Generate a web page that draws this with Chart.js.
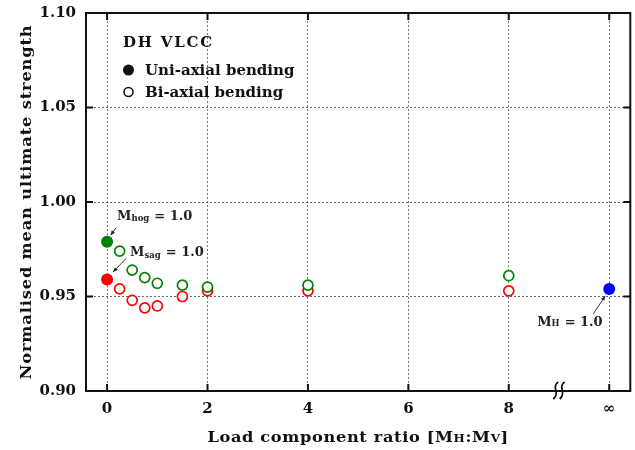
<!DOCTYPE html>
<html><head><meta charset="utf-8">
<script src="https://cdn.jsdelivr.net/npm/chart.js@4/dist/chart.umd.min.js"></script>
<style>html,body{margin:0;padding:0;background:#fff;overflow:hidden;}#wrap{width:635px;height:450px;overflow:hidden;}</style>
</head><body><div id="wrap"><canvas id="c" width="637" height="450"></canvas></div>
<script>
// ---- data ----
const xTicks = [0, 2, 4, 6, 8, 10];
const xTickLabels = ['0', '2', '4', '6', '8', '\u221E'];
const yTicks = [0.90, 0.95, 1.00, 1.05, 1.10];
const uniX = [0];
const uniHog = [0.979];
const uniSag = [0.959];
const horizX = [10];           // plotted at the "infinity" position
const horizOnly = [0.954];
const biX = [0.25, 0.5, 0.75, 1.0, 1.5, 2, 4, 8];
const biHog = [0.974, 0.964, 0.960, 0.957, 0.956, 0.955, 0.956, 0.961];
const biSag = [0.954, 0.948, 0.944, 0.945, 0.950, 0.953, 0.953, 0.953];
const breakAt = 9;
const xTitleParts = [['Load component ratio [M', 0], ['H', 1], [':M', 0], ['V', 1], [']', 0]];
const yTitle = 'Normalised mean ultimate strength';
const legendTitle = 'DH VLCC';
const legendItems = ['Uni-axial bending', 'Bi-axial bending'];

const SERIF = '"DejaVu Serif", "Liberation Serif", serif';
const GREEN = '#008000', RED = '#ff0000', BLUE = '#0000ff';

const pts = (xs, ys) => xs.map((x, i) => ({x: x, y: ys[i]}));

function arrow(ctx, x1, y1, x2, y2) {
  ctx.save();
  ctx.strokeStyle = '#222'; ctx.fillStyle = '#222'; ctx.lineWidth = 0.9;
  ctx.beginPath(); ctx.moveTo(x1, y1); ctx.lineTo(x2, y2); ctx.stroke();
  const a = Math.atan2(y2 - y1, x2 - x1), L = 5, w = 0.4;
  ctx.beginPath();
  ctx.moveTo(x2, y2);
  ctx.lineTo(x2 - L * Math.cos(a - w), y2 - L * Math.sin(a - w));
  ctx.lineTo(x2 - L * Math.cos(a + w), y2 - L * Math.sin(a + w));
  ctx.closePath(); ctx.fill();
  ctx.restore();
}
function mLabel(ctx, x, y, sub, subDy) {
  ctx.save();
  ctx.fillStyle = '#222'; ctx.textAlign = 'left'; ctx.textBaseline = 'alphabetic';
  ctx.font = 'bold 13px ' + SERIF;
  ctx.fillText('M', x, y);
  let cx = x + ctx.measureText('M').width;
  ctx.font = 'bold 8.5px ' + SERIF;
  ctx.fillText(sub, cx, y + subDy);
  cx += ctx.measureText(sub).width + 5;
  ctx.font = 'bold 13px ' + SERIF;
  ctx.fillText('= 1.0', cx, y);
  ctx.restore();
}
function setSpacing(ctx, v) { if ('letterSpacing' in ctx) ctx.letterSpacing = v; }

const decor = {
  id: 'decor',
  afterDraw(chart) {
    const {ctx, chartArea: ca, scales: {x, y}} = chart;
    ctx.save();
    // frame
    ctx.strokeStyle = '#111'; ctx.lineWidth = 2;
    ctx.strokeRect(ca.left, ca.top, ca.right - ca.left, ca.bottom - ca.top);
    // inward ticks
    ctx.beginPath();
    xTicks.forEach(v => {
      const px = x.getPixelForValue(v);
      ctx.moveTo(px, ca.bottom); ctx.lineTo(px, ca.bottom - 7);
      ctx.moveTo(px, ca.top); ctx.lineTo(px, ca.top + 7);
    });
    yTicks.forEach(v => {
      const py = y.getPixelForValue(v);
      ctx.moveTo(ca.left, py); ctx.lineTo(ca.left + 7, py);
      ctx.moveTo(ca.right, py); ctx.lineTo(ca.right - 7, py);
    });
    ctx.stroke();
    // axis break squiggles
    const bx = x.getPixelForValue(breakAt), by = ca.bottom;
    ctx.lineWidth = 1.8;
    [-3.2, 3.2].forEach(off => {
      const cx = bx + off, t = by - 9, b = by + 8;
      ctx.beginPath();
      ctx.moveTo(cx + 2.5, t);
      ctx.bezierCurveTo(cx - 5, t + 5, cx + 5, b - 6, cx - 2.5, b);
      ctx.stroke();
    });
    // annotations
    const hog = chart.getDatasetMeta(0).data[0];
    const sag = chart.getDatasetMeta(1).data[0];
    const hor = chart.getDatasetMeta(2).data[0];
    mLabel(ctx, hog.x + 10, hog.y - 22, 'hog', 1.5);
    arrow(ctx, hog.x + 9, hog.y - 14, hog.x + 3.5, hog.y - 6.5);
    mLabel(ctx, sag.x + 23, sag.y - 23, 'sag', 1.5);
    arrow(ctx, sag.x + 19, sag.y - 21, sag.x + 6, sag.y - 7.5);
    mLabel(ctx, hor.x - 72, hor.y + 37, 'H', 0);
    arrow(ctx, hor.x - 16, hor.y + 25, hor.x - 4, hor.y + 7);
    // legend
    const lx = ca.left, ly = ca.top;
    ctx.fillStyle = '#111'; ctx.textAlign = 'left'; ctx.textBaseline = 'alphabetic';
    ctx.font = 'bold 15px ' + SERIF;
    setSpacing(ctx, '1.8px');
    ctx.fillText(legendTitle, lx + 37, ly + 34);
    setSpacing(ctx, '0px');
    ctx.fillText(legendItems[0], lx + 59, ly + 62);
    ctx.fillText(legendItems[1], lx + 59, ly + 84);
    ctx.beginPath(); ctx.arc(lx + 42.5, ly + 57, 5.5, 0, Math.PI * 2); ctx.fill();
    ctx.lineWidth = 1.6; ctx.strokeStyle = '#111';
    ctx.beginPath(); ctx.arc(lx + 42.5, ly + 79, 4.5, 0, Math.PI * 2); ctx.stroke();
    // axis titles (slightly widened serif to mimic the extended bold face)
    const SX = 1.08;
    ctx.fillStyle = '#111';
    setSpacing(ctx, '0.6px');
    const big = 'bold 15px ' + SERIF, small = 'bold 11px ' + SERIF;
    let total = 0;
    xTitleParts.forEach(([t, s]) => { ctx.font = s ? small : big; total += ctx.measureText(t).width; });
    ctx.save();
    ctx.translate((ca.left + ca.right) / 2 - total * SX / 2, 442);
    ctx.scale(SX, 1);
    let cx = 0;
    xTitleParts.forEach(([t, s]) => {
      ctx.font = s ? small : big;
      ctx.fillText(t, cx, 0);
      cx += ctx.measureText(t).width;
    });
    ctx.restore();
    ctx.save();
    setSpacing(ctx, '0.8px');
    ctx.translate(31, (ca.top + ca.bottom) / 2);
    ctx.rotate(-Math.PI / 2);
    ctx.scale(SX, 1);
    ctx.textAlign = 'center';
    ctx.font = big;
    ctx.fillText(yTitle, 0, 0);
    ctx.restore();
    setSpacing(ctx, '0px');
    ctx.restore();
  }
};

new Chart(document.getElementById('c'), {
  type: 'scatter',
  data: {
    datasets: [
      {label: 'Uni-axial hogging', data: pts(uniX, uniHog), pointRadius: 6, pointHoverRadius: 6,
       backgroundColor: GREEN, borderColor: GREEN, borderWidth: 0, order: 1},
      {label: 'Uni-axial sagging', data: pts(uniX, uniSag), pointRadius: 6, pointHoverRadius: 6,
       backgroundColor: RED, borderColor: RED, borderWidth: 0, order: 1},
      {label: 'Uni-axial horizontal', data: pts(horizX, horizOnly), pointRadius: 6, pointHoverRadius: 6,
       backgroundColor: BLUE, borderColor: BLUE, borderWidth: 0, order: 1},
      {label: 'Bi-axial hogging', data: pts(biX, biHog), pointRadius: 5, pointHoverRadius: 5,
       backgroundColor: '#fff', borderColor: GREEN, borderWidth: 1.7, order: 2},
      {label: 'Bi-axial sagging', data: pts(biX, biSag), pointRadius: 5, pointHoverRadius: 5,
       backgroundColor: '#fff', borderColor: RED, borderWidth: 1.7, order: 3}
    ]
  },
  options: {
    responsive: false, animation: false, devicePixelRatio: 1,
    layout: {padding: {left: 0, right: 0, top: 13, bottom: 0}},
    plugins: {legend: {display: false}, tooltip: {enabled: false}},
    scales: {
      x: {
        type: 'linear', min: -0.42, max: 10.42,
        afterBuildTicks: s => { s.ticks = xTicks.map(v => ({value: v})); },
        afterFit: s => { s.height = 59; s.paddingLeft = 0; s.paddingRight = 0; },
        ticks: {
          padding: 9, color: '#111', font: {family: SERIF, size: 15, weight: 'bold'},
          callback: v => { const i = xTicks.indexOf(v); return i >= 0 ? xTickLabels[i] : ''; }
        },
        grid: {drawTicks: false, color: '#777', lineWidth: 1},
        border: {display: false, dash: [2, 2]}
      },
      y: {
        type: 'linear', min: 0.90, max: 1.10,
        afterBuildTicks: s => { s.ticks = yTicks.map(v => ({value: v})); },
        afterFit: s => { s.width = 86; s.paddingTop = 0; s.paddingBottom = 0; },
        ticks: {
          padding: 10, color: '#111', font: {family: SERIF, size: 15, weight: 'bold'},
          callback: v => v.toFixed(2)
        },
        grid: {drawTicks: false, lineWidth: 1,
               color: c => (c.tick && (c.tick.value <= 0.901 || c.tick.value >= 1.099)) ? 'rgba(0,0,0,0)' : '#666'},
        border: {display: false, dash: [2, 2]}
      }
    }
  },
  plugins: [decor]
});
</script>
</body></html>
